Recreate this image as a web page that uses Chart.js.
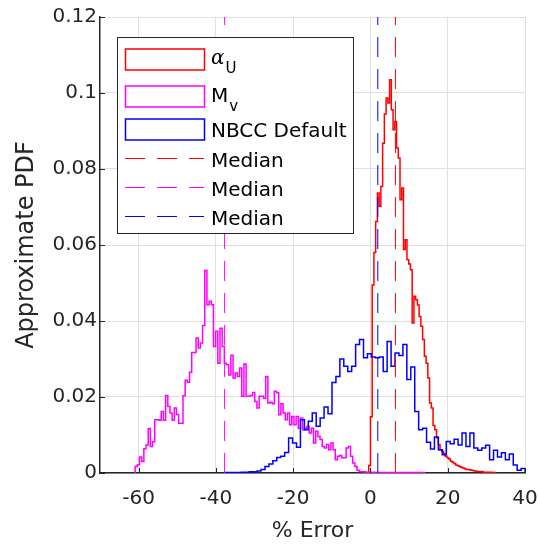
<!DOCTYPE html>
<html>
<head>
<meta charset="utf-8">
<script src="https://cdn.jsdelivr.net/npm/chart.js@4.4.1/dist/chart.umd.min.js"></script>
<style>
  html, body { margin: 0; padding: 0; background: #fff; }
  canvas { display: block; }
</style>
</head>
<body>
<canvas id="pdfChart" width="538" height="544"></canvas>
<script>
// names as shown in the legend ("_" = subscript)
var seriesNames = ["α_U", "M_v", "NBCC Default", "Median", "Median", "Median"];
var xTicks = [-60, -40, -20, 0, 20, 40];
var yTicks = [0, 0.02, 0.04, 0.06, 0.08, 0.1, 0.12];

// alpha_U histogram: first bin edge, bin width, pdf per bin
var alphaStart = -0.45;
var alphaWidth = 0.45;
var alphaPdf = [
  0.0020, 0.0148, 0.0495, 0.0580, 0.0662, 0.0737, 0.0702, 0.0754, 0.0868, 0.0945,
  0.0987, 0.0974, 0.1035, 0.0956, 0.0903, 0.0925, 0.0855, 0.0829, 0.0719, 0.0750,
  0.0588, 0.0614, 0.0561, 0.0550, 0.0535, 0.0395, 0.0465, 0.0456, 0.0442, 0.0412,
  0.0386, 0.0351, 0.0307, 0.0289, 0.0250, 0.0184, 0.0171, 0.0125, 0.0114, 0.0092,
  0.0075, 0.0061, 0.0057, 0.0051, 0.0044, 0.0040, 0.0037, 0.0031, 0.0028, 0.0025,
  0.0021, 0.0019, 0.0017, 0.0015, 0.0013, 0.0011, 0.0009, 0.0009, 0.0008, 0.0007,
  0.0006, 0.0005, 0.0004, 0.0004, 0.0004, 0.0003, 0.0002, 0.0002, 0.0002, 0.0002,
  0.0002, 0.0001, 0.0001
];

// M_v histogram
var mvStart = -60.9;
var mvWidth = 0.563;
var mvPdf = [
  0.0017, 0.0022, 0.0042, 0.0030, 0.0064, 0.0074, 0.0117, 0.0070, 0.0082, 0.0140,
  0.0140, 0.0139, 0.0162, 0.0139, 0.0204, 0.0175, 0.0158, 0.0139, 0.0171, 0.0154,
  0.0131, 0.0131, 0.0203, 0.0244, 0.0239, 0.0265, 0.0317, 0.0317, 0.0355, 0.0329,
  0.0342, 0.0388, 0.0533, 0.0443, 0.0452, 0.0443, 0.0333, 0.0373, 0.0289, 0.0381,
  0.0333, 0.0289, 0.0285, 0.0258, 0.0310, 0.0250, 0.0263, 0.0254, 0.0276, 0.0202,
  0.0287, 0.0202, 0.0202, 0.0204, 0.0212, 0.0188, 0.0171, 0.0202, 0.0202, 0.0197,
  0.0254, 0.0184, 0.0186, 0.0182, 0.0215, 0.0211, 0.0153, 0.0182, 0.0158, 0.0140,
  0.0158, 0.0127, 0.0149, 0.0127, 0.0149, 0.0118, 0.0145, 0.0114, 0.0118, 0.0123,
  0.0105, 0.0118, 0.0079, 0.0110, 0.0096, 0.0088, 0.0070, 0.0066, 0.0075, 0.0061,
  0.0079, 0.0061, 0.0035, 0.0044, 0.0046, 0.0040, 0.0040, 0.0066, 0.0070, 0.0044,
  0.0026, 0.0017, 0.0007, 0.0004, 0.0003, 0.0003, 0.0002, 0.0002, 0.0002, 0.0002,
  0.0001, 0.0001, 0.0001, 0.0001, 0.0001, 0.0001, 0.0001, 0.0001, 0.0001, 0.0001,
  0.0001, 0.0001, 0.0001, 0.0001, 0.0001, 0.0001, 0.0001, 0.0001, 0.0001, 0.0001,
  0.0001, 0.0001, 0.0001
];

// NBCC default histogram
var nbccStart = -37.5;
var nbccWidth = 1.02;
var nbccPdf = [
  0.0001, 0.0001, 0.0001, 0.0001, 0.0002, 0.0002, 0.0003, 0.0003, 0.0005, 0.0009,
  0.0017, 0.0024, 0.0032, 0.0041, 0.0044, 0.0054, 0.0092, 0.0079, 0.0068, 0.0140,
  0.0114, 0.0136, 0.0158, 0.0123, 0.0145, 0.0174, 0.0156, 0.0238, 0.0254, 0.0300,
  0.0281, 0.0267, 0.0281, 0.0338, 0.0351, 0.0303, 0.0314, 0.0305, 0.0303, 0.0305,
  0.0267, 0.0346, 0.0281, 0.0316, 0.0309, 0.0338, 0.0246, 0.0279, 0.0162, 0.0114,
  0.0118, 0.0081, 0.0063, 0.0095, 0.0061, 0.0048, 0.0083, 0.0077, 0.0089, 0.0074,
  0.0105, 0.0070, 0.0105, 0.0066, 0.0060, 0.0066, 0.0073, 0.0035, 0.0060, 0.0042,
  0.0053, 0.0035, 0.0050, 0.0021, 0.0007, 0.0012
];

// medians (% error) for alpha_U, M_v, NBCC
var medians = [6.46, -37.75, 1.9];
var seriesColors = ["#ff0000", "#ff00ff", "#0000ff"];

var axisColor = "#262626";
var fontFamily = "'DejaVu Sans', sans-serif";

// histogram outline as stairs points (value applies from its edge to the next)
function stairs(start, width, values) {
  var pts = [{ x: start, y: 0 }];
  for (var i = 0; i < values.length; i++) {
    pts.push({ x: start + i * width, y: values[i] });
  }
  pts.push({ x: start + values.length * width, y: 0 });
  return pts;
}

var histData = [
  stairs(alphaStart, alphaWidth, alphaPdf),
  stairs(mvStart, mvWidth, mvPdf),
  stairs(nbccStart, nbccWidth, nbccPdf)
];

var datasets = [];
for (var i = 0; i < 3; i++) {
  datasets.push({
    label: seriesNames[i],
    data: histData[i],
    borderColor: seriesColors[i],
    borderWidth: 1.5,
    stepped: true,
    fill: false
  });
}
for (var j = 0; j < 3; j++) {
  datasets.push({
    label: seriesNames[3 + j],
    data: [{ x: medians[j], y: yTicks[0] }, { x: medians[j], y: yTicks[yTicks.length - 1] }],
    borderColor: seriesColors[j],
    borderWidth: 1,
    borderDash: [20, 12],
    fill: false
  });
}
// later series on top, like the plot order
datasets.forEach(function(ds, k) { ds.order = datasets.length - k; });

// small tick marks pointing into the axes
var innerTicks = {
  id: "innerTicks",
  afterDatasetsDraw: function(chart) {
    var ctx = chart.ctx, area = chart.chartArea;
    var x = chart.scales.x, y = chart.scales.y;
    ctx.save();
    ctx.strokeStyle = axisColor;
    ctx.lineWidth = 1;
    ctx.beginPath();
    xTicks.forEach(function(v) {
      var px = Math.round(x.getPixelForValue(v)) + 0.5;
      ctx.moveTo(px, area.bottom);
      ctx.lineTo(px, area.bottom - 5);
    });
    yTicks.forEach(function(v) {
      var py = Math.round(y.getPixelForValue(v)) + 0.5;
      ctx.moveTo(area.left, py);
      ctx.lineTo(area.left + 5, py);
    });
    ctx.stroke();
    ctx.restore();
  }
};

// boxed legend in the upper-left corner of the axes
var boxLegend = {
  id: "boxLegend",
  afterDraw: function(chart) {
    var ctx = chart.ctx;
    var rowMid = [59.5, 96.5, 129.5, 158.5, 187.5, 216.5];
    var rowBase = [63.5, 101.5, 137, 166.5, 195.5, 224.5];
    ctx.save();
    ctx.fillStyle = "#ffffff";
    ctx.fillRect(117, 37, 236, 196);
    ctx.strokeStyle = axisColor;
    ctx.lineWidth = 1;
    ctx.strokeRect(117.5, 37.5, 236, 196);

    chart.data.datasets.forEach(function(ds, i) {
      ctx.strokeStyle = ds.borderColor;
      if (i < 3) {
        ctx.setLineDash([]);
        ctx.lineWidth = 1.5;
        ctx.strokeRect(125.5, rowMid[i] - 10.5, 79, 21);
      } else {
        ctx.setLineDash([20, 12]);
        ctx.lineWidth = 1.2;
        ctx.beginPath();
        ctx.moveTo(125, rowMid[i]);
        ctx.lineTo(204, rowMid[i]);
        ctx.stroke();
      }
      ctx.setLineDash([]);
      ctx.fillStyle = "#000000";
      ctx.textBaseline = "alphabetic";
      ctx.textAlign = "left";
      var parts = ds.label.split("_");
      ctx.font = parts[0] === "α" ? "italic 20px 'DejaVu Serif', serif" : "20px " + fontFamily;
      ctx.fillText(parts[0], 211, rowBase[i]);
      if (parts.length > 1) {
        var w = ctx.measureText(parts[0]).width;
        ctx.font = "15px " + fontFamily;
        ctx.fillText(parts[1], 212 + w, rowBase[i] + 9);
      }
    });
    ctx.restore();
  }
};

var ctx = document.getElementById("pdfChart");
var chart = new Chart(ctx, {
  type: "line",
  data: { datasets: datasets },
  plugins: [innerTicks, boxLegend],
  options: {
    responsive: false,
    animation: false,
    layout: { padding: { top: 17, right: 13, bottom: 0, left: 0 } },
    elements: { point: { radius: 0, hoverRadius: 0 }, line: { tension: 0 } },
    plugins: {
      legend: { display: false },
      tooltip: { enabled: false }
    },
    scales: {
      x: {
        type: "linear",
        min: -70,
        max: 40,
        afterBuildTicks: function(scale) {
          scale.ticks = xTicks.map(function(v) { return { value: v }; });
        },
        afterFit: function(scale) {
          scale.height = 71;
          scale.paddingLeft = 0;
          scale.paddingRight = 0;
        },
        grid: { color: "#dfdfdf", drawTicks: false },
        border: { color: axisColor, width: 1.5 },
        ticks: {
          color: axisColor,
          font: { family: fontFamily, size: 20 },
          padding: 14,
          maxRotation: 0,
          callback: function(v) { return String(v); }
        },
        title: {
          display: true,
          text: "% Error",
          color: axisColor,
          font: { family: fontFamily, size: 22, lineHeight: 1.2 },
          padding: { top: 0, bottom: 0 }
        }
      },
      y: {
        type: "linear",
        min: 0,
        max: 0.12,
        afterBuildTicks: function(scale) {
          scale.ticks = yTicks.map(function(v) { return { value: v }; });
        },
        afterFit: function(scale) {
          scale.width = 100;
          scale.paddingTop = 0;
          scale.paddingBottom = 0;
        },
        grid: { color: "#dfdfdf", drawTicks: false },
        border: { color: axisColor, width: 1.5 },
        ticks: {
          color: axisColor,
          font: { family: fontFamily, size: 20 },
          padding: 3,
          callback: function(v) { return String(v); }
        },
        title: {
          display: true,
          text: "Approximate PDF",
          color: axisColor,
          font: { family: fontFamily, size: 24, lineHeight: 1.2 },
          padding: { top: 12, bottom: 0 }
        }
      }
    }
  }
});
</script>
</body>
</html>
